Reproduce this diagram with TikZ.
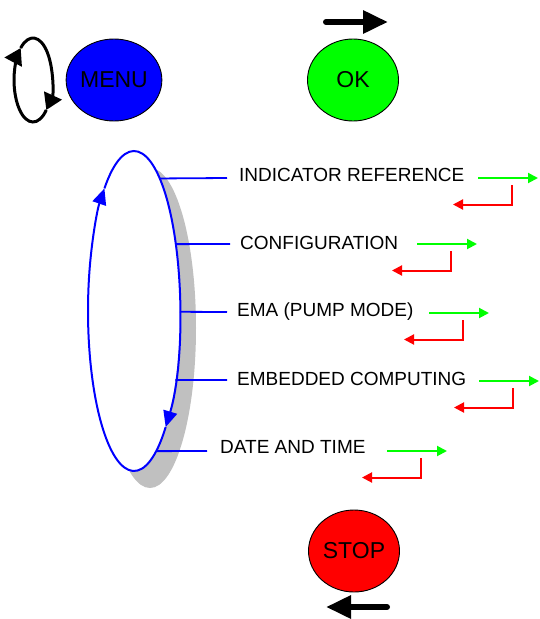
\documentclass[tikz,border=0pt]{standalone}
\usepackage{fontspec}
\setmainfont{Liberation Sans}
\usetikzlibrary{arrows.meta,shapes.geometric,calc}
\definecolor{pureblue}{RGB}{0,0,255}
\definecolor{puregreen}{RGB}{0,255,0}
\definecolor{purered}{RGB}{255,0,0}
\definecolor{shadowgrey}{RGB}{192,192,192}

\begin{document}
\begin{tikzpicture}[x=1pt,y=-1pt,
  button/.style={ellipse, draw=black, line width=0.9pt, minimum width=91pt,
    minimum height=82pt, inner sep=0pt, outer sep=0pt,
    font=\fontsize{23}{27}\selectfont},
  item/.style={anchor=base west, inner sep=0pt, font=\fontsize{19}{23}\selectfont},
  link/.style={draw=pureblue, line width=1.8pt},
  fwd/.style={draw=puregreen, line width=2pt, -{Triangle[length=10pt,width=10pt]}},
  back/.style={draw=purered, line width=2pt, -{Triangle[length=10pt,width=10pt]}},
  push/.style={line width=6pt, line cap=round, -{Triangle[length=25pt,width=22pt]}},
  loopline/.style={line width=3pt, -{Triangle[length=16pt,width=19pt]}},
  cycline/.style={draw=pureblue, line width=2pt, -{Triangle[length=16pt,width=14pt]}}
]
\useasboundingbox (0,0) rectangle (539,619);

% buttons
\node[button, fill=pureblue]  (menu) at (114,80)  {MENU};
\node[button, fill=puregreen] (ok)   at (353,80)  {OK};
\node[button, fill=purered]   (stop) at (354,551) {STOP};

% direction arrows beside OK and STOP
\coordinate (okfrom) at (326,22);
\coordinate (okto)   at (388,22);
\draw[push] (okfrom) -- (okto);
\coordinate (stopfrom) at (387,607);
\coordinate (stopto)   at (326,607);
\draw[push] (stopfrom) -- (stopto);

% rotation loop next to MENU
\coordinate (loopc) at (33,80);
\draw[loopline] ($(loopc)+(45.6:19 and 42)$)
  arc[start angle=45.6, end angle=229.6, x radius=19, y radius=42];
\draw[loopline] ($(loopc)+(229.6:19 and 42)$)
  arc[start angle=229.6, end angle=405.6, x radius=19, y radius=42];

% menu cycle with its shadow
\fill[shadowgrey] (150,328) ellipse[x radius=46, y radius=160];
\node[ellipse, fill=white, minimum width=92pt, minimum height=320pt,
  inner sep=0pt, outer sep=0pt] (cyc) at (134,311) {};
\draw[cycline] ($(cyc.center)+(46.5:46 and 160)$)
  arc[start angle=46.5, end angle=230, x radius=46, y radius=160];
\draw[cycline] ($(cyc.center)+(230:46 and 160)$)
  arc[start angle=230, end angle=406.5, x radius=46, y radius=160];

% menu entries
\node[item] (l1) at (239,181.7) {INDICATOR REFERENCE};
\node[item] (l2) at (240,249.7) {CONFIGURATION};
\node[item] (l3) at (237,316.7) {EMA (PUMP MODE)};
\node[item] (l4) at (237,385.7) {EMBEDDED COMPUTING};
\node[item] (l5) at (220,453.7) {DATE AND TIME};

% links from the cycle to the entries
\coordinate (k1) at (227,178);
\coordinate (k2) at (230,244);
\coordinate (k3) at (227,312);
\coordinate (k4) at (227,380);
\coordinate (k5) at (207,451);
\draw[link] (cyc.79.1) -- (k1);
\draw[link] (cyc.58.0) -- (k2);
\draw[link] (cyc.-1.2) -- (k3);
\draw[link] (cyc.-59.0) -- (k4);
\draw[link] (cyc.-81.0) -- (k5);

% enter / return arrows for each entry
\foreach \i/\y/\g in {1/178/478, 2/244/417, 3/313/429, 4/381/479, 5/451/387} {
  \coordinate (in\i)    at (\g,\y);
  \coordinate (intip\i) at (\g+60,\y);
  \coordinate (out\i)    at (\g+33.5,\y+7);
  \coordinate (outtip\i) at (\g-25,\y+26.5);
  \draw[fwd]  (in\i) -- (intip\i);
  \draw[back] (out\i) |- (outtip\i);
}
\end{tikzpicture}
\end{document}
